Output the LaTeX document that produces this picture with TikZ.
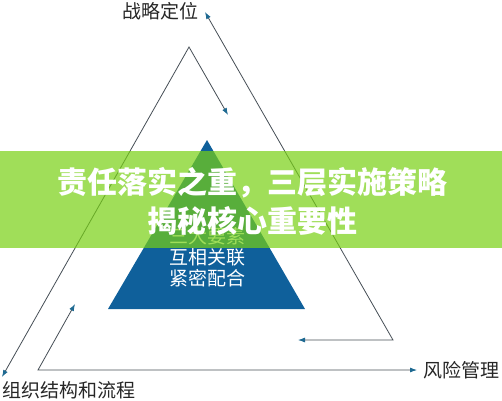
\documentclass[tikz,border=0pt]{standalone}
\usepackage{fontspec}
\usepackage{tikz}
\usetikzlibrary{positioning}
\usetikzlibrary{arrows.meta}
\newfontfamily\cjk{Noto Sans CJK SC}
\definecolor{linegray}{RGB}{70,78,86}
\definecolor{tipblue}{RGB}{30,105,145}
\definecolor{pyrblue}{RGB}{15,96,155}
\definecolor{bandgreen}{RGB}{119,208,19}
\tikzset{flow/.style={draw=linegray, line width=0.8pt, {Latex[length=7pt,width=5pt,color=tipblue]}-{Latex[length=7pt,width=5pt,color=tipblue]}},
  label/.style={font=\cjk\fontsize{19}{21}\selectfont, text=black!85, inner sep=0pt},
  pyrtext/.style={font=\cjk\fontsize{19}{21}\selectfont, text=white, inner sep=0pt},
  bannertext/.style={font=\cjk\bfseries\fontsize{30}{34}\selectfont, text=white, inner sep=0pt}}

\begin{document}
\begin{tikzpicture}[x=1pt, y=-1pt]
    \useasboundingbox (0,0) rectangle (502,400);
    % pyramid
    \fill[pyrblue] (207,140) -- (108,309) -- (305,309) -- cycle;
    \node[pyrtext] (p2) at (207,257) {互相关联};
    \node[pyrtext, above = 3pt of p2] (p1) {三大要素};
    \node[pyrtext, below = 3pt of p2] (p3) {紧密配合};
    % corners and free ends
    \coordinate (top) at (189,47);
    \coordinate (topend) at (228,115);
    \coordinate (leftend) at (2,377);
    \coordinate (base) at (38,370);
    \coordinate (baseup) at (75,304);
    \coordinate (baseend) at (417,370);
    \coordinate (right) at (393,340);
    \coordinate (rightup) at (205,12);
    \coordinate (rightend) at (298,340);
    \draw[flow] (topend) -- (top) -- (leftend);
    \draw[flow] (baseup) -- (base) -- (baseend);
    \draw[flow] (rightup) -- (right) -- (rightend);
    % labels
    \node[label] (strat) at (160,11) {战略定位};
    \node[label] (risk) at (461,370) {风险管理};
    \node[label, anchor=west] (org) at (2,390) {组织结构和流程};
    % banner
    \fill[bandgreen, opacity=0.7] (0,151) rectangle (502,248);
    \node[bannertext] (t1) at (252,183) {责任落实之重，三层实施策略};
    \node[bannertext, below = 8pt of t1] (t2) {揭秘核心重要性};
\end{tikzpicture}
\end{document}
